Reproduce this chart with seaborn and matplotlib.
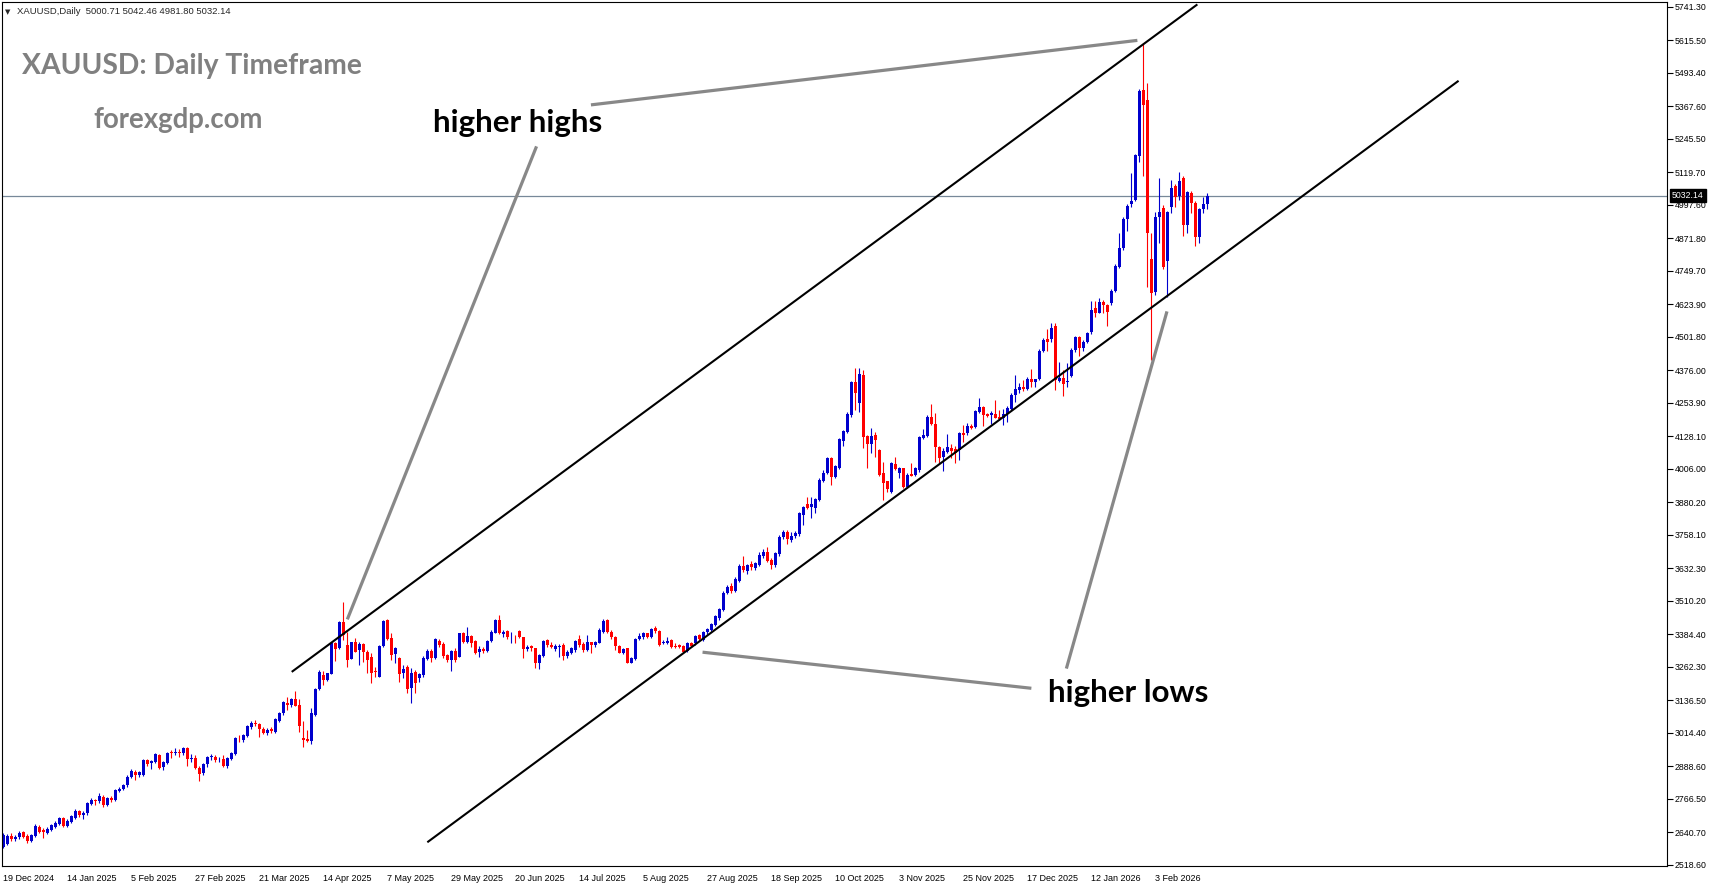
import matplotlib
matplotlib.use('Agg')
import matplotlib.pyplot as plt
import matplotlib.transforms as mtransforms
import numpy as np
import pandas as pd
import seaborn as sns

# daily candles, bar 0 = 19 Dec 2024
opens = [
    2588, 2598, 2628, 2616, 2623, 2641, 2629, 2610, 2628, 2660,
    2650, 2640, 2650, 2663, 2673, 2694, 2665, 2681, 2695, 2720,
    2708, 2713, 2748, 2763, 2757, 2775, 2744, 2769, 2763, 2798,
    2805, 2818, 2850, 2868, 2857, 2857, 2913, 2900, 2904, 2932,
    2888, 2903, 2942, 2938, 2943, 2938, 2958, 2915, 2920, 2883,
    2863, 2897, 2923, 2925, 2915, 2918, 2892, 2918, 2937, 2993,
    2988, 3004, 3038, 3052, 3048, 3028, 3015, 3028, 3019, 3061,
    3088, 3128, 3118, 3143, 3118, 2995, 2990, 2985, 3082, 3178,
    3232, 3213, 3236, 3351, 3332, 3432, 3345, 3292, 3355, 3326,
    3348, 3320, 3298, 3248, 3226, 3341, 3438, 3370, 3311, 3295,
    3238, 3261, 3182, 3243, 3219, 3232, 3291, 3323, 3295, 3360,
    3348, 3307, 3288, 3323, 3301, 3388, 3357, 3378, 3360, 3320,
    3330, 3322, 3361, 3391, 3438, 3386, 3397, 3373, 3376, 3398,
    3373, 3328, 3341, 3332, 3278, 3303, 3363, 3345, 3328, 3338,
    3345, 3303, 3316, 3326, 3366, 3348, 3326, 3357, 3345, 3353,
    3395, 3438, 3395, 3373, 3341, 3316, 3332, 3278, 3291, 3366,
    3376, 3388, 3373, 3407, 3398, 3351, 3353, 3363, 3341, 3345,
    3341, 3323, 3353, 3351, 3382, 3363, 3393, 3401, 3420, 3445,
    3476, 3541, 3566, 3549, 3586, 3641, 3624, 3649, 3633, 3645,
    3679, 3695, 3664, 3645, 3686, 3749, 3770, 3739, 3754, 3761,
    3833, 3874, 3861, 3858, 3889, 3962, 3989, 4046, 3977, 4008,
    4112, 4146, 4208, 4333, 4252, 4358, 4129, 4099, 4133, 4077,
    3989, 3962, 3920, 4024, 3992, 4008, 3937, 3987, 3983, 4002,
    4121, 4129, 4202, 4174, 4087, 4052, 4071, 4083, 4079, 4077,
    4142, 4139, 4167, 4162, 4221, 4237, 4212, 4208, 4212, 4202,
    4196, 4212, 4229, 4283, 4302, 4312, 4304, 4342, 4333, 4342,
    4450, 4492, 4492, 4542, 4337, 4346, 4333, 4355, 4452, 4500,
    4459, 4482, 4521, 4609, 4592, 4634, 4621, 4627, 4675, 4765,
    4834, 4943, 5000, 5016, 5181, 5429, 5391, 4793, 4671, 4950,
    4984, 4788, 4991, 5068, 5030, 5099, 4922, 5043, 5003, 4878,
    4981, 5000.71,
]
highs = [
    2640, 2635, 2638, 2630, 2648, 2648, 2634, 2636, 2672, 2670,
    2656, 2660, 2674, 2685, 2700, 2698, 2690, 2708, 2728, 2726,
    2720, 2755, 2770, 2768, 2790, 2780, 2774, 2776, 2805, 2810,
    2822, 2855, 2878, 2875, 2873, 2916, 2918, 2914, 2938, 2936,
    2908, 2944, 2950, 2956, 2953, 2963, 2962, 2935, 2930, 2892,
    2902, 2928, 2935, 2932, 2923, 2932, 2925, 2944, 2998, 3008,
    3012, 3044, 3058, 3064, 3052, 3038, 3032, 3036, 3070, 3094,
    3136, 3150, 3145, 3173, 3141, 3060, 3025, 3107, 3184, 3250,
    3248, 3241, 3356, 3354, 3436, 3505, 3395, 3357, 3370, 3357,
    3351, 3326, 3313, 3263, 3345, 3438, 3441, 3388, 3338, 3298,
    3270, 3270, 3257, 3250, 3240, 3303, 3328, 3328, 3370, 3368,
    3357, 3310, 3326, 3332, 3391, 3395, 3411, 3382, 3363, 3341,
    3338, 3363, 3401, 3441, 3457, 3401, 3401, 3395, 3382, 3401,
    3376, 3345, 3345, 3332, 3310, 3363, 3366, 3357, 3348, 3348,
    3351, 3326, 3338, 3363, 3382, 3357, 3382, 3357, 3361, 3407,
    3441, 3441, 3401, 3378, 3345, 3332, 3335, 3301, 3370, 3388,
    3395, 3391, 3407, 3416, 3401, 3363, 3376, 3366, 3351, 3348,
    3345, 3357, 3357, 3382, 3386, 3398, 3410, 3428, 3458, 3485,
    3546, 3570, 3578, 3600, 3648, 3679, 3650, 3660, 3658, 3695,
    3705, 3714, 3670, 3695, 3758, 3778, 3775, 3770, 3772, 3845,
    3868, 3902, 3902, 3896, 3970, 4000, 4052, 4050, 4021, 4122,
    4152, 4218, 4337, 4383, 4383, 4377, 4133, 4158, 4145, 4080,
    4033, 3962, 4033, 4049, 4014, 4008, 3992, 4027, 4014, 4129,
    4154, 4208, 4250, 4217, 4090, 4083, 4137, 4100, 4090, 4146,
    4171, 4180, 4174, 4227, 4271, 4242, 4215, 4224, 4264, 4227,
    4232, 4242, 4290, 4358, 4327, 4340, 4352, 4380, 4345, 4456,
    4496, 4530, 4555, 4552, 4408, 4377, 4402, 4458, 4506, 4505,
    4490, 4520, 4637, 4637, 4646, 4640, 4625, 4680, 4775, 4890,
    4950, 5000, 5118, 5190, 5432, 5604, 5454, 4890, 4970, 5097,
    4997, 4976, 5091, 5075, 5122, 5106, 5050, 5048, 5010, 4986,
    5025, 5042.46,
]
lows = [
    2582, 2592, 2608, 2610, 2618, 2620, 2602, 2605, 2622, 2637,
    2619, 2634, 2645, 2658, 2668, 2660, 2660, 2676, 2690, 2700,
    2693, 2708, 2742, 2745, 2752, 2738, 2740, 2755, 2758, 2792,
    2800, 2812, 2845, 2838, 2850, 2852, 2890, 2880, 2900, 2880,
    2876, 2899, 2922, 2932, 2925, 2930, 2892, 2905, 2878, 2835,
    2858, 2888, 2914, 2905, 2906, 2885, 2882, 2912, 2932, 2982,
    2980, 3000, 3030, 3040, 3000, 3012, 3005, 3015, 3015, 3055,
    3082, 3100, 3112, 3114, 3019, 2960, 2982, 2973, 3078, 3175,
    3194, 3210, 3235, 3286, 3328, 3365, 3263, 3291, 3320, 3270,
    3282, 3238, 3203, 3226, 3223, 3338, 3363, 3288, 3276, 3207,
    3220, 3163, 3126, 3163, 3207, 3226, 3288, 3282, 3291, 3338,
    3294, 3282, 3248, 3282, 3298, 3351, 3353, 3338, 3310, 3298,
    3316, 3320, 3357, 3388, 3386, 3373, 3366, 3351, 3351, 3370,
    3294, 3323, 3323, 3260, 3253, 3300, 3338, 3332, 3323, 3300,
    3288, 3294, 3310, 3320, 3338, 3320, 3323, 3313, 3338, 3351,
    3391, 3388, 3366, 3326, 3313, 3310, 3276, 3276, 3288, 3363,
    3366, 3370, 3370, 3388, 3341, 3348, 3348, 3332, 3335, 3332,
    3313, 3320, 3338, 3345, 3363, 3358, 3385, 3396, 3415, 3440,
    3472, 3535, 3540, 3545, 3580, 3620, 3612, 3628, 3625, 3640,
    3672, 3658, 3630, 3638, 3680, 3742, 3724, 3732, 3748, 3755,
    3795, 3855, 3820, 3842, 3885, 3958, 3986, 3945, 3970, 4005,
    4090, 4140, 4202, 4227, 4221, 4083, 4008, 4064, 4049, 3980,
    3889, 3920, 3916, 4002, 3970, 3933, 3933, 3979, 3979, 3996,
    4117, 4124, 4171, 4033, 4027, 3999, 4064, 4046, 4027, 4039,
    4108, 4133, 4155, 4158, 4215, 4167, 4202, 4174, 4196, 4190,
    4172, 4183, 4224, 4258, 4290, 4300, 4302, 4312, 4312, 4338,
    4445, 4450, 4483, 4302, 4333, 4280, 4312, 4352, 4445, 4430,
    4450, 4478, 4512, 4575, 4590, 4590, 4542, 4620, 4670, 4760,
    4828, 4900, 4990, 5010, 5159, 5106, 4690, 4415, 4660, 4853,
    4758, 4653, 4968, 4990, 5015, 4880, 4890, 4968, 4843, 4855,
    4965, 4981.80,
]
closes = [
    2631, 2628, 2615, 2625, 2640, 2625, 2610, 2631, 2665, 2643,
    2641, 2655, 2668, 2678, 2694, 2665, 2683, 2703, 2723, 2706,
    2715, 2750, 2763, 2757, 2778, 2744, 2769, 2763, 2800, 2805,
    2818, 2850, 2870, 2857, 2868, 2913, 2898, 2909, 2935, 2884,
    2905, 2940, 2938, 2943, 2940, 2959, 2918, 2919, 2882, 2862,
    2898, 2925, 2927, 2914, 2918, 2892, 2920, 2939, 2995, 2990,
    3008, 3040, 3053, 3048, 3028, 3015, 3025, 3023, 3066, 3091,
    3131, 3118, 3141, 3116, 3040, 2988, 2985, 3088, 3181, 3243,
    3213, 3238, 3353, 3328, 3432, 3382, 3288, 3355, 3320, 3348,
    3320, 3288, 3241, 3244, 3341, 3436, 3366, 3307, 3332, 3236,
    3253, 3178, 3238, 3203, 3236, 3295, 3323, 3295, 3366, 3345,
    3303, 3288, 3323, 3288, 3388, 3357, 3378, 3351, 3316, 3330,
    3323, 3361, 3395, 3438, 3388, 3395, 3373, 3376, 3373, 3373,
    3328, 3338, 3332, 3278, 3307, 3361, 3345, 3338, 3341, 3341,
    3303, 3320, 3332, 3360, 3345, 3326, 3357, 3345, 3357, 3401,
    3436, 3395, 3373, 3341, 3316, 3328, 3278, 3295, 3366, 3378,
    3388, 3373, 3403, 3398, 3345, 3357, 3361, 3338, 3338, 3338,
    3320, 3353, 3341, 3378, 3366, 3395, 3403, 3423, 3453, 3479,
    3541, 3561, 3549, 3594, 3641, 3626, 3645, 3636, 3651, 3683,
    3695, 3661, 3645, 3689, 3751, 3770, 3741, 3754, 3766, 3839,
    3864, 3858, 3874, 3894, 3964, 3992, 4046, 3977, 4017, 4117,
    4149, 4212, 4333, 4290, 4362, 4127, 4099, 4129, 4114, 3983,
    3954, 3929, 4029, 4004, 4008, 3937, 3983, 3979, 4008, 4124,
    4133, 4202, 4174, 4087, 4046, 4074, 4087, 4074, 4064, 4142,
    4133, 4167, 4158, 4224, 4237, 4208, 4204, 4214, 4196, 4192,
    4212, 4236, 4283, 4306, 4312, 4305, 4343, 4333, 4342, 4450,
    4490, 4484, 4534, 4340, 4346, 4325, 4337, 4452, 4500, 4459,
    4484, 4515, 4602, 4590, 4634, 4621, 4596, 4675, 4768, 4834,
    4943, 4993, 5010, 5184, 5426, 5372, 4890, 4665, 4953, 4972,
    4765, 4972, 5059, 5028, 5087, 4922, 5047, 5003, 4878, 4981,
    5001, 5032.14,
]

date_labels = ['19 Dec 2024', '14 Jan 2025', '5 Feb 2025', '27 Feb 2025', '21 Mar 2025',
               '14 Apr 2025', '7 May 2025', '29 May 2025', '20 Jun 2025', '14 Jul 2025',
               '5 Aug 2025', '27 Aug 2025', '18 Sep 2025', '10 Oct 2025', '3 Nov 2025',
               '25 Nov 2025', '17 Dec 2025', '12 Jan 2026', '3 Feb 2026']
price_ticks = [5741.30, 5615.50, 5493.40, 5367.60, 5245.50, 5119.70, 4997.60, 4871.80,
               4749.70, 4623.90, 4501.80, 4376.00, 4253.90, 4128.10, 4006.00, 3880.20,
               3758.10, 3632.30, 3510.20, 3384.40, 3262.30, 3136.50, 3014.40, 2888.60,
               2766.50, 2640.70, 2518.60]
last_price = 5032.14
header = 'XAUUSD,Daily  5000.71 5042.46 4981.80 5032.14'

# channel and annotation lines as (bar, price) end points
upper_channel = ([72.1, 298.5], [3243.6, 5749.9])
lower_channel = ([106.0, 363.8], [2603.9, 5463.1])
arrows = [([146.9, 283.5], [5372.6, 5614.8]),
          ([133.3, 86.0], [5216.8, 3440.8]),
          ([257.0, 174.8], [3182.1, 3317.6]),
          ([265.75, 290.9], [3256.1, 4597.2])]

df = pd.DataFrame({'open': opens, 'high': highs, 'low': lows, 'close': closes})
df['bar'] = np.arange(len(df))
df['up'] = df['close'] >= df['open']

BLUE = '#0000CD'
RED = '#FF0000'

sns.set_style('white')
plt.rcParams['font.family'] = ['Liberation Sans', 'DejaVu Sans']

W, H = 1713, 888
fig = plt.figure(figsize=(W / 100, H / 100), dpi=100)
ax = fig.add_axes([2 / W, 1 - 866 / H, 1665 / W, 864 / H])

colors = np.where(df['up'], BLUE, RED)
ax.vlines(df['bar'], df['low'], df['high'], colors=colors, linewidth=0.8)
body = (df['close'] - df['open']).abs().clip(lower=2.5)
ax.bar(df['bar'], body, bottom=df[['open', 'close']].min(axis=1),
       width=0.75, color=colors, linewidth=0)

ax.axhline(last_price, color='#778899', lw=0.9, zorder=0)

for xs, ys in [upper_channel, lower_channel]:
    ax.plot(xs, ys, color='black', lw=1.5, solid_capstyle='butt')
for xs, ys in arrows:
    ax.plot(xs, ys, color='#888888', lw=2.3, solid_capstyle='butt')

ax.set_xlim(-0.325, 415.9)
ax.set_ylim(2514.8, 5758.9)

ax.yaxis.tick_right()
ax.set_yticks(price_ticks)
ax.set_yticklabels([f'{v:.2f}' for v in price_ticks])
ax.set_xticks(range(0, 16 * len(date_labels), 16))
ax.set_xticklabels(date_labels, ha='left')
ax.tick_params(axis='both', direction='out', length=4, width=0.8, colors='black',
               labelsize=6.3, pad=1.5)
ax.tick_params(axis='x', labelsize=6.5)
for s in ax.spines.values():
    s.set_visible(True)
    s.set_color('black')
    s.set_linewidth(0.8)

trans = mtransforms.blended_transform_factory(ax.transAxes, ax.transData)
ax.text(1 + 5 / 1665, last_price, f'{last_price:.2f}', transform=trans, ha='left',
        va='center', color='white', fontsize=6.3,
        bbox=dict(boxstyle='square,pad=0.2', fc='black', ec='black'))

fig.text(5 / W, 1 - 14 / H, '\u25BC', fontsize=5, family=['DejaVu Sans'], va='baseline')
fig.text(17 / W, 1 - 14 / H, header, fontsize=6.8, va='baseline')

gray = '#808080'
fig.text(22 / W, 1 - 74 / H, 'XAUUSD: Daily Timeframe', fontsize=20.3, family=['Lato'],
         fontweight='bold', color=gray, va='baseline')
fig.text(93 / W, 1 - 128 / H, 'forexgdp.com', fontsize=19.9, family=['Lato'],
         fontweight='bold', color=gray, va='baseline')
fig.text(433 / W, 1 - 132 / H, 'higher highs', fontsize=22.5, family=['Lato'],
         fontweight='bold', color='black', va='baseline')
fig.text(1048 / W, 1 - 702 / H, 'higher lows', fontsize=22.5, family=['Lato'],
         fontweight='bold', color='black', va='baseline')

fig.savefig('out.png', dpi=100)
